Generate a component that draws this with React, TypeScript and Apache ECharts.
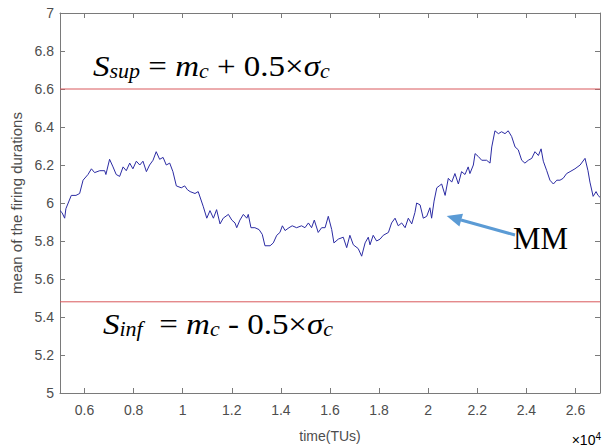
import React, { useEffect, useRef } from "react";
import * as echarts from "echarts";

// time in TUs
const timeTUs = [
  5000, 5080, 5190, 5240, 5460, 5650, 5800, 5940, 6140, 6280, 6410, 6620, 6820, 6870, 7020, 7160, 7290, 7430,
  7570, 7700, 7840, 7970, 8110, 8250, 8380, 8520, 8650, 8790, 8920, 9060, 9200, 9330, 9470, 9600, 9740, 9940,
  10080, 10190, 10300, 10500, 10630, 10840, 10980, 11110, 11250, 11380, 11520, 11650, 11860, 12000, 12130, 12200,
  12330, 12470, 12610, 12670, 12780, 12940, 13110, 13240, 13350, 13560, 13690, 13830, 13960, 14060, 14170, 14330,
  14460, 14640, 14840, 14980, 15120, 15250, 15360, 15520, 15660, 15800, 15930, 16070, 16160, 16340, 16540, 16680,
  16810, 16950, 17150, 17290, 17430, 17560, 17630, 17760, 17900, 18040, 18170, 18380, 18510, 18650, 18780, 18920,
  19060, 19190, 19330, 19460, 19530, 19670, 19800, 19940, 20070, 20140, 20240, 20350, 20450, 20550, 20690, 20820,
  20960, 21090, 21230, 21360, 21500, 21630, 21700, 21840, 21910, 22040, 22180, 22380, 22520, 22590, 22720, 22860,
  22990, 23130, 23260, 23400, 23540, 23670, 23810, 23940, 24080, 24220, 24350, 24490, 24600, 24690, 24830, 24960,
  25100, 25240, 25370, 25500, 25640, 25780, 25980, 26190, 26390, 26510, 26590, 26720, 26840, 26920, 27000,
];

// mean of the firing durations (MM)
const meanDurations = [
  5.96, 5.95, 5.92, 5.97, 6.04, 6.04, 6.05, 6.12, 6.15, 6.18, 6.16, 6.17, 6.17, 6.15, 6.23, 6.19, 6.15, 6.14,
  6.19, 6.17, 6.21, 6.18, 6.22, 6.2, 6.22, 6.165, 6.2, 6.225, 6.27, 6.23, 6.24, 6.2, 6.21, 6.165, 6.09, 6.08,
  6.09, 6.07, 6.06, 6.05, 6.06, 5.98, 5.92, 5.96, 5.92, 5.965, 5.89, 5.92, 5.94, 5.91, 5.895, 5.87,
  5.91, 5.94, 5.92, 5.94, 5.87, 5.87, 5.86, 5.835, 5.775, 5.775, 5.79, 5.83, 5.845, 5.88, 5.855, 5.87,
  5.88, 5.87, 5.88, 5.87, 5.895, 5.87, 5.91, 5.845, 5.87, 5.87, 5.93, 5.86, 5.79, 5.81, 5.82, 5.765,
  5.83, 5.78, 5.76, 5.72, 5.79, 5.82, 5.78, 5.83, 5.8, 5.81, 5.83, 5.845, 5.895, 5.92, 5.88, 5.895,
  5.87, 5.92, 5.89, 5.95, 6.0, 5.99, 5.92, 5.93, 5.975, 5.92, 6.01, 6.08, 6.09, 6.1, 6.04, 6.13,
  6.11, 6.155, 6.1, 6.165, 6.15, 6.19, 6.155, 6.2, 6.26, 6.245, 6.225, 6.225, 6.21, 6.295, 6.38, 6.365,
  6.375, 6.365, 6.38, 6.35, 6.295, 6.28, 6.225, 6.21, 6.225, 6.235, 6.27, 6.25, 6.285, 6.22, 6.17, 6.12,
  6.1, 6.12, 6.12, 6.13, 6.155, 6.165, 6.18, 6.2, 6.235, 6.17, 6.11, 6.035, 6.06, 6.04, 6.03,
];

const xTicks = [6000, 8000, 10000, 12000, 14000, 16000, 18000, 20000, 22000, 24000, 26000];
const xTickLabels = ["0.6", "0.8", "1", "1.2", "1.4", "1.6", "1.8", "2", "2.2", "2.4", "2.6"];
const yTickLabels = ["5", "5.2", "5.4", "5.6", "5.8", "6", "6.2", "6.4", "6.6", "6.8", "7"];
const xRange = [5000, 27000];
const supThreshold = 6.6; // S_sup
const infThreshold = 5.48; // S_inf

const SANS = "'Liberation Sans', Arial, sans-serif";
const SERIF = "'Liberation Serif', 'Times New Roman', serif";
const AXIS = "#7a7a7a";
const LABEL = "#4d4d4d";
const RED = "#d9595c";

export default function App() {
  const ref = useRef<HTMLDivElement>(null);
  useEffect(() => {
    document.body.style.margin = "0";
    const chart = echarts.init(ref.current as HTMLDivElement, null, { renderer: "svg" });
    const tickCommon = { show: true, inside: true, length: 5, lineStyle: { color: AXIS } };
    const mainRich = {
      it: { fontFamily: SERIF, fontStyle: "italic", fontSize: 30, lineHeight: 30, color: "#000" },
      rm: { fontFamily: SERIF, fontSize: 30, lineHeight: 30, color: "#000" },
      sub: { fontFamily: SERIF, fontStyle: "italic", fontSize: 20, lineHeight: 20, verticalAlign: "bottom", color: "#000" },
    };
    const thresholdSeries = (y: number) => ({
      type: "line",
      xAxisIndex: 0,
      yAxisIndex: 0,
      data: xRange.map((x) => [x, y]),
      symbol: "none",
      showSymbol: false,
      silent: true,
      lineStyle: { color: RED, width: 1 },
      z: 1,
    });
    chart.setOption({
      animation: false,
      backgroundColor: "#fff",
      grid: { left: 60, right: 12, top: 13, bottom: 51 },
      xAxis: [
        {
          type: "value",
          min: xRange[0],
          max: xRange[1],
          position: "bottom",
          name: "time(TUs)",
          nameLocation: "middle",
          nameGap: 36,
          nameTextStyle: { fontFamily: SANS, fontSize: 14, color: LABEL },
          axisLine: { show: true, lineStyle: { color: AXIS } },
          axisTick: { ...tickCommon, customValues: xTicks },
          axisLabel: {
            customValues: xTicks,
            fontFamily: SANS,
            fontSize: 14,
            color: LABEL,
            margin: 10,
            formatter: (v: number) => xTickLabels[xTicks.indexOf(v)] ?? "",
          },
          splitLine: { show: false },
        },
        {
          type: "value",
          min: xRange[0],
          max: xRange[1],
          position: "top",
          axisLine: { show: true, lineStyle: { color: AXIS } },
          axisTick: { ...tickCommon, customValues: xTicks },
          axisLabel: { show: false },
          splitLine: { show: false },
        },
      ],
      yAxis: [
        {
          type: "value",
          min: 5,
          max: 7,
          interval: 0.2,
          position: "left",
          name: "mean of the firing durations",
          nameLocation: "middle",
          nameGap: 29,
          nameTextStyle: { fontFamily: SANS, fontSize: 15, color: LABEL },
          axisLine: { show: true, lineStyle: { color: AXIS } },
          axisTick: tickCommon,
          axisLabel: {
            fontFamily: SANS,
            fontSize: 14,
            color: LABEL,
            margin: 6,
            showMinLabel: true,
            showMaxLabel: true,
            formatter: (v: number) => yTickLabels[Math.round((v - 5) / 0.2)] ?? "",
          },
          splitLine: { show: false },
        },
        {
          type: "value",
          min: 5,
          max: 7,
          interval: 0.2,
          position: "right",
          axisLine: { show: true, lineStyle: { color: AXIS } },
          axisTick: tickCommon,
          axisLabel: { show: false },
          splitLine: { show: false },
        },
      ],
      series: [
        thresholdSeries(supThreshold),
        thresholdSeries(infThreshold),
        {
          type: "line",
          xAxisIndex: 0,
          yAxisIndex: 0,
          data: timeTUs.map((t, i) => [t, meanDurations[i]]),
          symbol: "none",
          showSymbol: false,
          lineStyle: { color: "#2b2ba3", width: 1 },
          z: 2,
        },
      ],
      graphic: [
        {
          type: "text",
          x: 93,
          y: 66,
          scaleX: 1.1,
          style: {
            text: "{it|S}{sub|sup}{rm| = }{it|m}{sub|c}{rm| + 0.5×}{it|σ}{sub|c}",
            rich: mainRich,
            verticalAlign: "middle",
            align: "left",
          },
        },
        {
          type: "text",
          x: 103,
          y: 324,
          scaleX: 1.1,
          style: {
            text: "{it|S}{sub|inf}{rm|  = }{it|m}{sub|c}{rm| - 0.5×}{it|σ}{sub|c}",
            rich: mainRich,
            verticalAlign: "middle",
            align: "left",
          },
        },
        {
          type: "text",
          x: 513,
          y: 238,
          style: {
            text: "MM",
            fontFamily: SERIF,
            fontSize: 31,
            fill: "#000",
            verticalAlign: "middle",
            align: "left",
          },
        },
        {
          type: "line",
          shape: { x1: 515, y1: 235, x2: 461, y2: 220 },
          style: { stroke: "#5b9bd5", lineWidth: 3 },
        },
        {
          type: "polygon",
          shape: { points: [[446.7, 216], [463, 213.8], [459.4, 226.4]] },
          style: { fill: "#5b9bd5" },
        },
        {
          type: "text",
          right: 11,
          y: 431,
          style: {
            text: "{a|×10}{s|4}",
            rich: {
              a: { fontFamily: SANS, fontSize: 14, lineHeight: 16, color: LABEL, verticalAlign: "bottom" },
              s: { fontFamily: SANS, fontSize: 10, lineHeight: 10, color: LABEL, verticalAlign: "top" },
            },
          },
        },
      ],
    });
    return () => chart.dispose();
  }, []);
  return <div ref={ref} style={{ width: 612, height: 448, background: "#fff" }} />;
}
